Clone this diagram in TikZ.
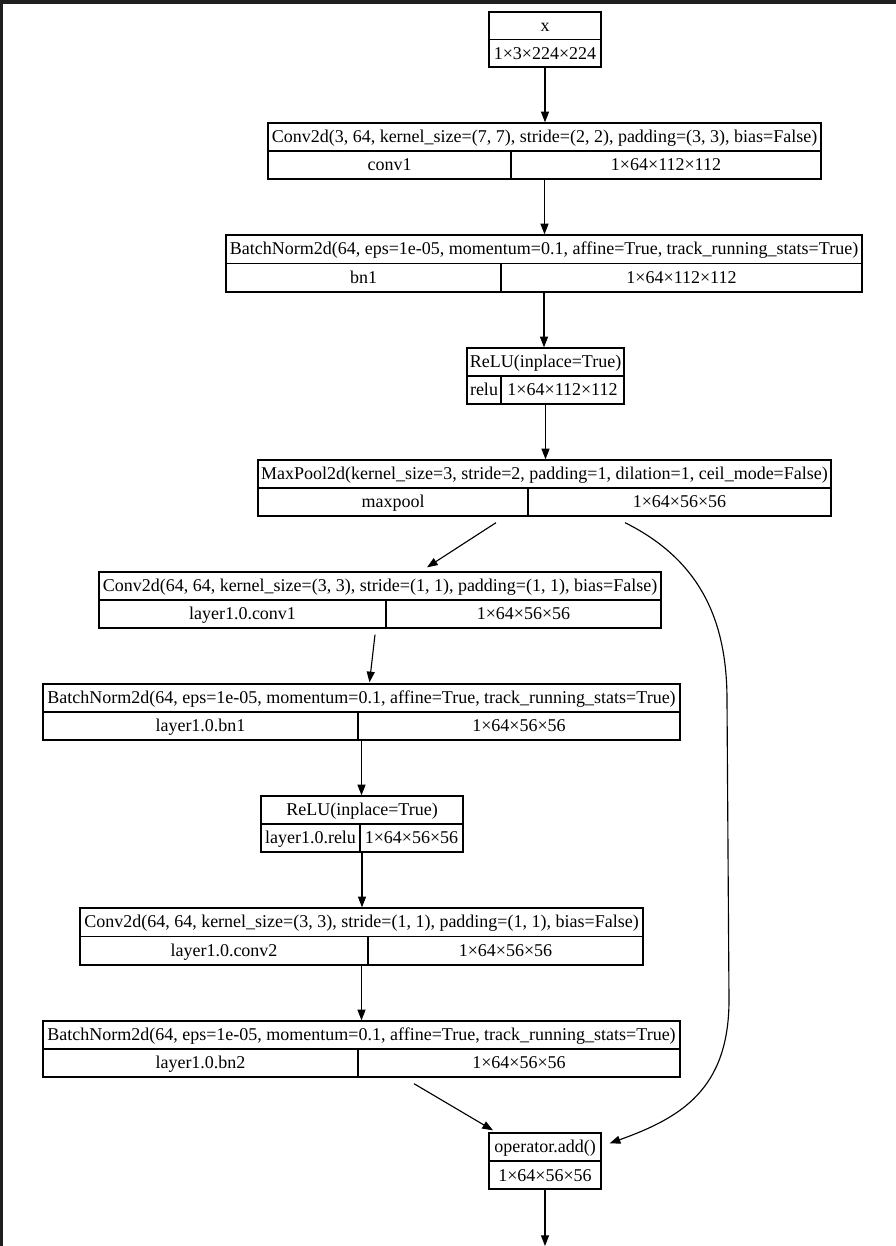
\documentclass[tikz,border=0pt]{standalone}
\usepackage{fontspec}
\setmainfont{Liberation Serif}
\usetikzlibrary{fit,calc,arrows.meta}
\newcommand\recbox[9]{%
  \node[rec, fit={(#2,#3) (#4,#5)}] (#1) {};
  \draw[recline] (#1.west) -- (#1.east);
  \draw[recline] (#6,{(#3+#5)/2}) -- (#6,#5);
  \node[lbl] (#1-t) at ($(#1.north)!0.25!(#1.south)$) {#7};
  \node[lbl] (#1-l) at ({(#2+#6)/2},{#3+0.75*(#5-#3)}) {#8};
  \node[lbl] (#1-r) at ({(#6+#4)/2},{#3+0.75*(#5-#3)}) {#9};
}
\newcommand\recsingle[7]{%
  \node[rec, fit={(#2,#3) (#4,#5)}] (#1) {};
  \draw[recline] (#1.west) -- (#1.east);
  \node[lbl] (#1-t) at ($(#1.north)!0.25!(#1.south)$) {#6};
  \node[lbl] (#1-b) at ($(#1.north)!0.75!(#1.south)$) {#7};
}
\begin{document}
\begin{tikzpicture}[x=0.75pt,y=-0.75pt,
  rec/.style={draw, line width=1pt, inner sep=0pt},
  recline/.style={line width=1pt},
  lbl/.style={inner sep=0pt, text height=9.5pt, text depth=1pt, font=\fontsize{13.5pt}{15pt}\selectfont},
  conn/.style={line width=0.85pt, -{Triangle[length=8pt,width=6pt]}}]
\useasboundingbox (0,0) rectangle (896,1246);
\fill[white] (0,0) rectangle (896,1246);
\fill[black!88] (0,0) rectangle (896,4);
\fill[black!88] (0,0) rectangle (3,1246);

\recsingle{x}{489}{12}{601}{67}{x}{1×3×224×224}
\recbox{conv1}{268}{123}{821}{179}{511}{Conv2d(3, 64, kernel\_size=(7, 7), stride=(2, 2), padding=(3, 3), bias=False)}{conv1}{1×64×112×112}
\recbox{bn1}{226}{235}{862}{292}{501}{BatchNorm2d(64, eps=1e-05, momentum=0.1, affine=True, track\_running\_stats=True)}{bn1}{1×64×112×112}
\recbox{relu}{467}{348}{624}{404}{501}{ReLU(inplace=True)}{relu}{1×64×112×112}
\recbox{maxpool}{258}{460}{831}{516}{528}{MaxPool2d(kernel\_size=3, stride=2, padding=1, dilation=1, ceil\_mode=False)}{maxpool}{1×64×56×56}
\recbox{lconva}{99}{572}{661}{628}{386}{Conv2d(64, 64, kernel\_size=(3, 3), stride=(1, 1), padding=(1, 1), bias=False)}{layer1.0.conv1}{1×64×56×56}
\recbox{lbna}{43}{684}{680}{740}{358}{BatchNorm2d(64, eps=1e-05, momentum=0.1, affine=True, track\_running\_stats=True)}{layer1.0.bn1}{1×64×56×56}
\recbox{lrelu}{261}{796}{463}{852}{360}{ReLU(inplace=True)}{layer1.0.relu}{1×64×56×56}
\recbox{lconvb}{80}{908}{643}{965}{368}{Conv2d(64, 64, kernel\_size=(3, 3), stride=(1, 1), padding=(1, 1), bias=False)}{layer1.0.conv2}{1×64×56×56}
\recbox{lbnb}{43}{1021}{680}{1077}{358}{BatchNorm2d(64, eps=1e-05, momentum=0.1, affine=True, track\_running\_stats=True)}{layer1.0.bn2}{1×64×56×56}
\recsingle{add}{489}{1133}{601}{1189}{operator.add()}{1×64×56×56}
\coordinate (outend) at (545,1246);

\draw[conn] (x.south) -- (x.south |- conv1.north);
\draw[conn] (conv1.south) -- (conv1.south |- bn1.north);
\draw[conn] (bn1.south) -- (bn1.south |- relu.north);
\draw[conn] (relu.south) -- (relu.south |- maxpool.north);
\draw[conn] ($(maxpool.south)+(-48.5,6)$) -- ($(lconva.north)+(47,-4)$);
\draw[conn] ($(lconva.south)+(-5,6)$) -- ($(lbna.north)+(8,-1)$);
\draw[conn] (lbna.south) -- (lbna.south |- lrelu.north);
\draw[conn] (lrelu.south) -- (lrelu.south |- lconvb.north);
\draw[conn] (lconvb.south) -- (lconvb.south |- lbnb.north);
\draw[conn] ($(lbnb.south)+(52.5,6)$) -- ($(add.north)+(-52,-2)$);
\draw[conn] ($(maxpool.south)+(80.5,6)$) .. controls (700,560) and (727,620) .. (727,700)
  -- (729,1000) .. controls (729,1090) and (680,1118) .. ($(add.north east)+(8,11)$);
\draw[conn] (add.south) -- (outend);
\end{tikzpicture}
\end{document}
